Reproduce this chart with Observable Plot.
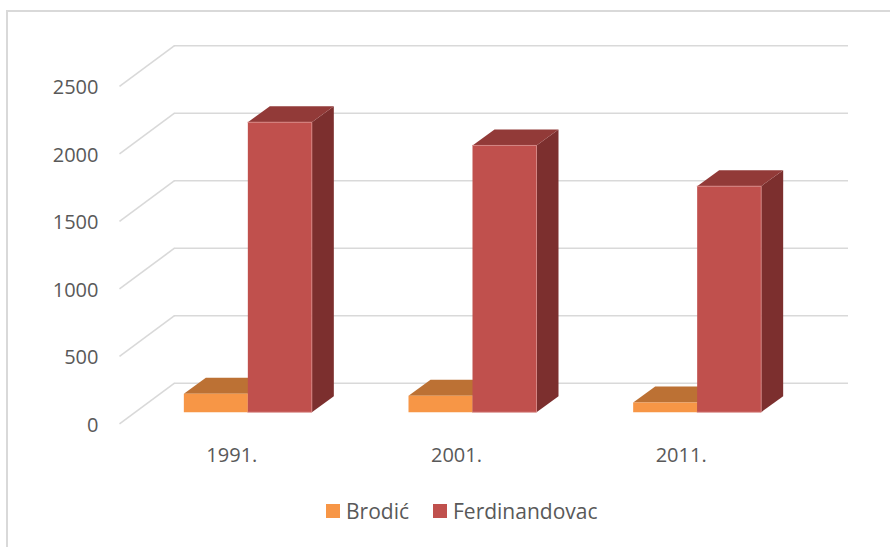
<!DOCTYPE html>
<html>
<head>
<meta charset="utf-8">
<script src="https://cdn.jsdelivr.net/npm/d3@7"></script>
<script src="https://cdn.jsdelivr.net/npm/@observablehq/plot@0.6"></script>
<style>
  body { margin: 0; background: #fff; font-family: "Open Sans", sans-serif; }
  #wrap { position: relative; width: 890px; height: 547px; overflow: hidden; background: #fff; }
  #chart { position: absolute; left: 0; top: 0; }
  #frame { position: absolute; left: 6px; top: 10px; width: 1000px; height: 700px; border: 2px solid #d9d9d9; box-sizing: border-box; pointer-events: none; }
  #legend { position: absolute; left: 326px; top: 497px; display: flex; align-items: center; font-size: 21px; color: #595959; white-space: nowrap; }
  .sw { width: 14px; height: 14px; display: inline-block; margin-right: 6px; }
  .item { display: flex; align-items: center; margin-right: 24px; }
</style>
</head>
<body>
<div id="wrap">
  <div id="chart"></div>
  <div id="legend"></div>
  <div id="frame"></div>
</div>
<script>
// ---- data ----
const years = ["1991.", "2001.", "2011."];
const seriesNames = ["Brodić", "Ferdinandovac"];
const brodic = [136, 121, 72];
const ferdinandovac = [2148, 1976, 1674];
const yTicks = [0, 500, 1000, 1500, 2000, 2500];

// ---- styling / geometry ----
const frontColors = ["#F79646", "#C0504D"];
const topColors = ["#BC7134", "#923A38"];
const sideColors = ["#A35A24", "#7C2F2E"];
const textColor = "#595959";
const gridColor = "#d9d9d9";

const xRange = [135, 809];
const yRange = [411.7, 74.2];
const xDomain = [-0.5, 2.5];
const yDomain = [0, 2500];
const pxPerX = (xRange[1] - xRange[0]) / (xDomain[1] - xDomain[0]);
const pxPerY = (yRange[0] - yRange[1]) / (yDomain[1] - yDomain[0]);
const px2x = p => p / pxPerX;       // pixel -> x units
const px2y = p => p / pxPerY;       // pixel (upward) -> y units

const barW = px2x(64);
const barDX = px2x(22), barDY = px2y(16);
const backDX = px2x(39), backDY = px2y(29);
const frontDX = px2x(-16), frontDY = px2y(-11.6);

const values = [brodic, ferdinandovac];
const polys = { front: [[], []], top: [[], []], side: [[], []] };
values.forEach((vals, s) => {
  vals.forEach((v, i) => {
    const x1 = i + (s === 0 ? -barW : 0), x2 = x1 + barW;
    const id = s + "-" + i;
    polys.front[s].push(
      {id, x: x1, y: 0}, {id, x: x2, y: 0}, {id, x: x2, y: v}, {id, x: x1, y: v});
    polys.top[s].push(
      {id, x: x1, y: v}, {id, x: x2, y: v}, {id, x: x2 + barDX, y: v + barDY}, {id, x: x1 + barDX, y: v + barDY});
    polys.side[s].push(
      {id, x: x2, y: 0}, {id, x: x2 + barDX, y: barDY}, {id, x: x2 + barDX, y: v + barDY}, {id, x: x2, y: v});
  });
});

const faceMarks = [];
[0, 1].forEach(s => {
  faceMarks.push(Plot.line(polys.side[s], {x: "x", y: "y", z: "id", fill: sideColors[s], stroke: "none"}));
  faceMarks.push(Plot.line(polys.top[s], {x: "x", y: "y", z: "id", fill: topColors[s], stroke: "none"}));
  faceMarks.push(Plot.line(polys.front[s], {x: "x", y: "y", z: "id", fill: frontColors[s], stroke: s === 1 ? "#d98a88" : "none", strokeWidth: 0.8}));
});

const chart = Plot.plot({
  width: 890,
  height: 490,
  style: { background: "transparent", fontFamily: "'Open Sans', sans-serif", color: textColor },
  x: { type: "linear", domain: xDomain, range: xRange, axis: null },
  y: { type: "linear", domain: yDomain, range: yRange, axis: null },
  marks: [
    // back wall gridlines
    Plot.ruleY(yTicks, { y: d => d + backDY, x1: xDomain[0] + backDX, x2: xDomain[1] + backDX, stroke: gridColor, strokeWidth: 1.6 }),
    // left side wall diagonals
    Plot.link(yTicks, { x1: xDomain[0] + frontDX, y1: d => d + frontDY, x2: xDomain[0] + backDX, y2: d => d + backDY, stroke: gridColor, strokeWidth: 1.6 }),
    ...faceMarks,
    // y tick labels
    Plot.text(yTicks, { x: xDomain[0] + frontDX, y: d => d + frontDY, text: d => String(d), dx: -21, dy: 1.5, textAnchor: "end", fill: textColor, fontSize: 20 }),
    // category labels
    Plot.text(years, { x: (d, i) => i + frontDX, y: 0, text: d => d, dy: 43.3, textAnchor: "middle", fill: textColor, fontSize: 20 })
  ]
});
document.getElementById("chart").appendChild(chart);

// legend
const legend = document.getElementById("legend");
seriesNames.forEach((name, s) => {
  const item = document.createElement("div");
  item.className = "item";
  const sw = document.createElement("span");
  sw.className = "sw";
  sw.style.background = frontColors[s];
  const label = document.createElement("span");
  label.textContent = name;
  item.appendChild(sw);
  item.appendChild(label);
  legend.appendChild(item);
});
</script>
</body>
</html>
